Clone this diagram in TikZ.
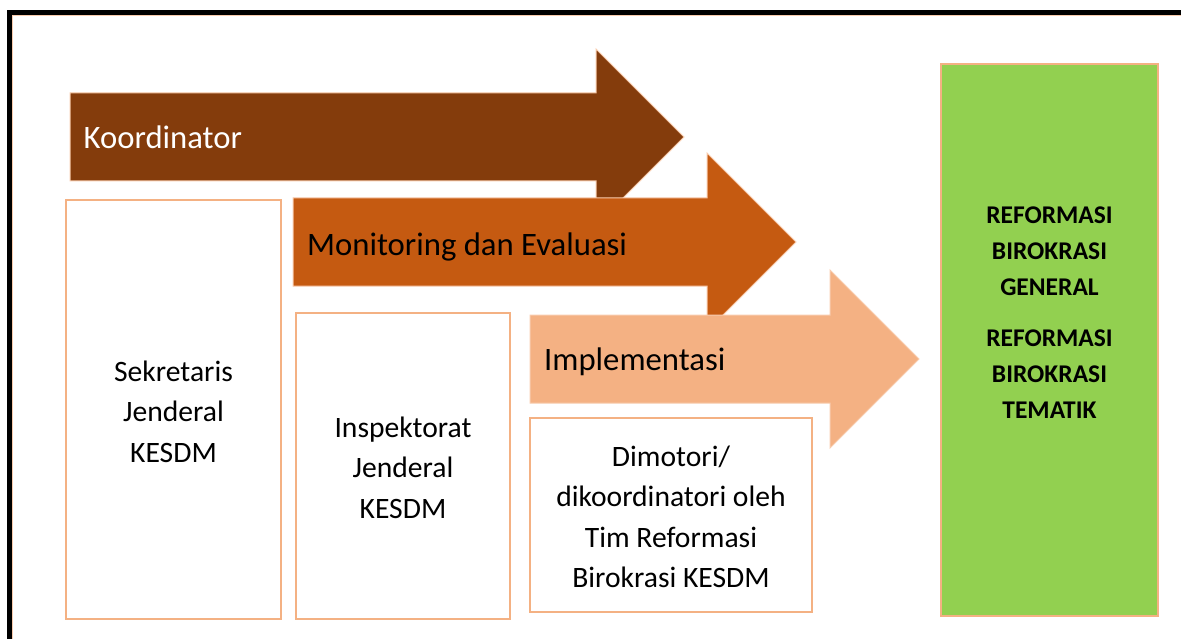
\documentclass[tikz,border=0pt]{standalone}
\usepackage{fontspec}
\setmainfont{Carlito}
\usetikzlibrary{positioning}
\definecolor{kordbrown}  {RGB}{132,60,12}
\definecolor{monevorange}{RGB}{197,90,17}
\definecolor{implpeach}  {RGB}{244,177,131}
\definecolor{peachline}  {RGB}{248,203,173}
\definecolor{rbgreen}    {RGB}{146,208,80}

\begin{document}
\begin{tikzpicture}[x=1pt,y=-1pt,
          flow/.style={draw=peachline,line width=1pt,line join=miter},
          unit/.style={rectangle,draw=implpeach,line width=1.5pt,fill=white,inner sep=0pt},
          lbl/.style={anchor=base west,inner sep=0pt,font=\fontsize{32.7}{40}\selectfont},
          unittext/.style={align=center,font=\fontsize{29.6}{40.5}\selectfont},
          rbtext/.style={align=center,inner sep=0pt,font=\bfseries\fontsize{25.5}{36}\selectfont}
      ]
        \useasboundingbox (0,0) rectangle (1181,639);
        % frame
        \draw[line width=5pt] (1200,12.5) -| (9.8,660);
        \draw[peachline,line width=1pt] (1200,15.5) -| (12.8,660);
        % the three block arrows
        \filldraw[flow,fill=kordbrown]   (70,93)  -- (596,93)  -- (596,49)  -- (684,137) -- (596,225) -- (596,181) -- (70,181)  -- cycle;
        \filldraw[flow,fill=monevorange] (293,198) -- (707,198) -- (707,153) -- (796,242) -- (707,331) -- (707,286) -- (293,286) -- cycle;
        \filldraw[flow,fill=implpeach]   (530,315) -- (830,315) -- (830,270) -- (919,359) -- (830,448) -- (830,403) -- (530,403) -- cycle;
        \node[lbl,text=white] (koordinator) at (83.5,149) {Koordinator};
        \node[lbl]            (monev)       at (307,255)  {Monitoring dan Evaluasi};
        \node[lbl]            (impl)        at (544,370)  {Implementasi};
        % units
        \node[unit,minimum width=215pt,minimum height=419pt] (sekjen) at (173.5,409.5) {};
        \node[unit,minimum width=214pt,minimum height=306pt] (itjen)  at (403,466)    {};
        \node[unit,minimum width=282pt,minimum height=194pt] (timrb)  at (671,515)    {};
        \node[unittext] at (173.5,411.5) {Sekretaris\\Jenderal\\KESDM};
        \node[unittext] at (403,467.5)   {Inspektorat\\Jenderal\\KESDM};
        \node[unittext] at (671,517)     {Dimotori/\\dikoordinatori oleh\\Tim Reformasi\\Birokrasi KESDM};
        % target
        \node[unit,fill=rbgreen,minimum width=217pt,minimum height=552pt] (rb) at (1049.5,340) {};
        \node[rbtext] (rbgen) at (1049.5,251) {REFORMASI\\BIROKRASI\\GENERAL};
        \node[rbtext] (rbtem) at (1049.5,374) {REFORMASI\\BIROKRASI\\TEMATIK};
      \end{tikzpicture}
\end{document}
